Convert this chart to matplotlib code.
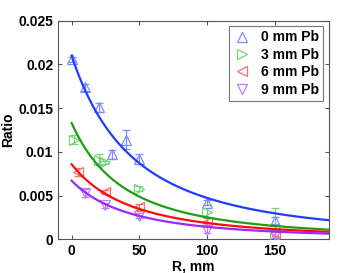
import numpy as np
import matplotlib
matplotlib.use("Agg")
import matplotlib.pyplot as plt

plt.rcParams["font.family"] = ["Liberation Sans", "DejaVu Sans"]
plt.rcParams["font.weight"] = "bold"

labels = ["0 mm Pb", "3 mm Pb", "6 mm Pb", "9 mm Pb"]
markers = ["^", ">", "<", "v"]
line_colors = ["#1f3cff", "#1f9e14", "#ff0a0a", "#9a28ff"]
marker_colors = ["#7d8cff", "#78d478", "#ff6e6e", "#c07cff"]

# measured points
r_0 = [0, 10, 20, 30, 40, 50, 100, 150]
ratio_0 = [0.0206, 0.0174, 0.0151, 0.0097, 0.0114, 0.0092, 0.0042, 0.0021]
err_0 = [0.0003, 0.0004, 0.0005, 0.0005, 0.0011, 0.0006, 0.0003, 0.0004]

r_3 = [2, 20, 25, 50, 100, 150]
ratio_3 = [0.0114, 0.0091, 0.0088, 0.0058, 0.0031, 0.0002]
err_3 = [0.0005, 0.0006, 0.0002, 0.0003, 0.0005, 0.0034]

r_6 = [5, 25, 50, 100, 150]
ratio_6 = [0.0077, 0.0054, 0.0037, 0.0020, 0.0007]
err_6 = [0.0005, 0.0002, 0.0003, 0.0004, 0.0003]

r_9 = [10, 25, 50, 100, 150]
ratio_9 = [0.0053, 0.0039, 0.0027, 0.0011, 0.0005]
err_9 = [0.0005, 0.0003, 0.0003, 0.0004, 0.0003]

# fitted curves: a / (1 + R/b)^2
fit_a = [0.0210, 0.0133, 0.00858, 0.0067]
fit_b = [90.4, 76.8, 87.4, 85.6]

series = [(r_0, ratio_0, err_0), (r_3, ratio_3, err_3),
          (r_6, ratio_6, err_6), (r_9, ratio_9, err_9)]

fig = plt.figure(figsize=(3.63, 2.73), dpi=100)
ax = fig.add_axes([0.160, 0.1234, 0.746, 0.8008])

r_fit = np.linspace(0, 190, 300)
handles = []
for i, (r, y, e) in enumerate(series):
    ax.errorbar(r, y, yerr=e, fmt="none", ecolor=marker_colors[i],
                elinewidth=0.9, capsize=3, capthick=0.9, zorder=2)
    h, = ax.plot(r, y, ls="none", marker=markers[i], ms=7, mfc="none",
                 mec=marker_colors[i], mew=0.9, zorder=3, label=labels[i])
    handles.append(h)
for i in range(4):
    ax.plot(r_fit, fit_a[i] / (1 + r_fit / fit_b[i]) ** 2,
            color=line_colors[i], lw=1.6, zorder=4)

ax.set_xlim(-10, 190)
ax.set_ylim(0, 0.025)
ax.set_xticks([0, 50, 100, 150])
ax.set_yticks([0, 0.005, 0.01, 0.015, 0.02, 0.025])
ax.set_yticklabels(["0", "0.005", "0.01", "0.015", "0.02", "0.025"])
ax.tick_params(direction="in", top=True, right=True, labelsize=10,
               length=3, color="#555555")
for s in ax.spines.values():
    s.set_color("#555555")
ax.set_xlabel("R, mm", fontsize=10, fontweight="bold", labelpad=1)
ax.set_ylabel("Ratio", fontsize=10, fontweight="bold", labelpad=2)

leg = ax.legend(handles=handles, loc="upper right", fontsize=10,
                frameon=True, fancybox=False, handlelength=1.2,
                handletextpad=0.8, borderpad=0.3, labelspacing=0.25,
                borderaxespad=0.4)
leg.get_frame().set_edgecolor("#555555")
leg.get_frame().set_linewidth(0.8)

fig.savefig("out.png", dpi=100)
